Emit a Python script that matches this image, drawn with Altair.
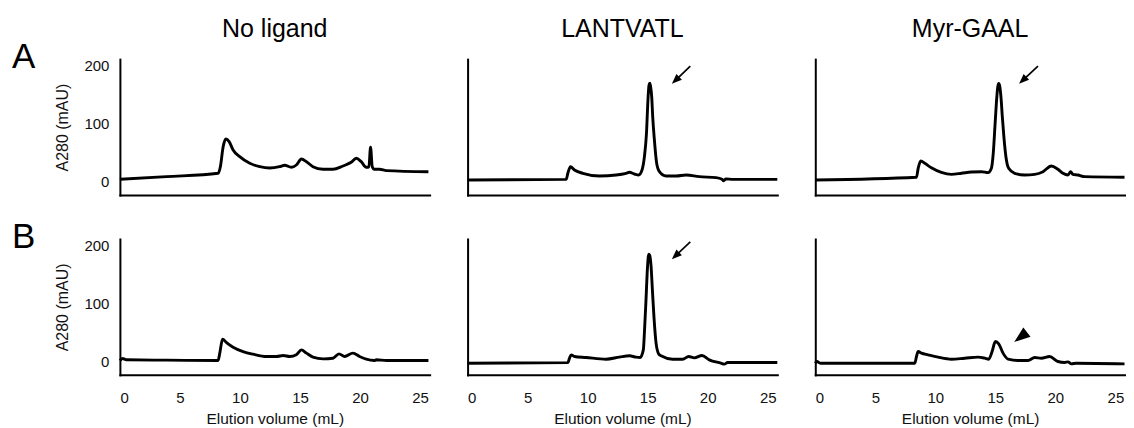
import altair as alt
import pandas as pd

FONT = "Liberation Sans"

col_titles = ["No ligand", "LANTVATL", "Myr-GAAL"]
row_labels = ["A", "B"]
x_ticks = [0, 5, 10, 15, 20, 25]
y_ticks = [0, 100, 200]

# Row A
a1_x = [0.0, 3.88, 8.18, 8.37, 8.6, 8.82, 9.1, 9.43, 9.98, 10.82, 11.65, 12.48, 13.3, 13.73, 14.28,
        14.7, 15.12, 15.54, 16.08, 16.92, 17.75, 18.58, 19.27, 19.69, 20.1, 20.52, 20.74, 20.88,
        21.02, 21.2, 21.63, 22.2, 25.7]
a1_y = [4.1, 8.6, 14.4, 25.8, 60, 73.5, 68.9, 54.6, 43, 31.6, 25.8, 23.6, 25.8, 28.2, 24.7,
        28.7, 39, 34.4, 25.8, 21.3, 21.3, 27, 33.3, 40.2, 34.4, 24.7, 25, 59.2,
        25.8, 21.3, 21.3, 19, 17]

a2_x = [0.0, 8.21, 8.35, 8.57, 8.9, 9.6, 10.98, 12.37, 13.2, 13.48, 13.9, 14.25, 14.53, 14.73,
        14.9, 15.03, 15.11, 15.18, 15.25, 15.34, 15.42, 15.56, 15.75, 15.98, 16.53, 17.37, 18.2,
        19.3, 20.7, 21.19, 21.33, 21.52, 22.1, 25.8]
a2_y = [2.9, 4.0, 14.4, 25.8, 20, 14.4, 9.8, 11.5, 14.4, 16.1, 13.2, 11.5, 20, 43,
        83, 143, 166, 169.5, 163, 145, 112, 71.8, 31.6, 17.2, 9.8, 9.8, 11.5,
        8.6, 6.9, 4, 1.7, 4.6, 4, 4]

a3_x = [0.0, 8.43, 8.57, 8.79, 9.12, 9.67, 10.5, 11.34, 12.17, 13.0, 13.84, 14.4, 14.67, 14.83,
        14.98, 15.12, 15.2, 15.28, 15.36, 15.47, 15.58, 15.72, 15.88, 16.11, 16.61, 17.44, 18.28,
        18.97, 19.66, 20.21, 20.63, 21.05, 21.27, 21.46, 21.88, 22.44, 25.76]
a3_y = [2.9, 7.5, 23, 35.6, 31.6, 24.1, 16.1, 12.6, 14.4, 16.7, 17.2, 15.5, 23, 50,
        100, 145, 163, 169.3, 165, 145, 112, 75, 43, 23, 14.4, 11.5, 12.6,
        17.2, 27, 21.3, 14.4, 11.5, 17.2, 12.6, 11.5, 8.6, 7.5]

# Row B
b1_x = [0.0, 0.22, 0.55, 3.88, 8.18, 8.32, 8.55, 8.88, 9.43, 10.26, 11.1, 12.2, 13.04, 13.6,
        14.15, 14.7, 15.12, 15.54, 16.08, 16.92, 17.75, 18.25, 18.72, 19.41, 19.97, 20.52,
        21.2, 21.35, 22.2, 25.7]
b1_y = [1.7, 5.2, 2.9, 2.3, 1.7, 14.4, 38.5, 32.7, 24.7, 17.2, 12.6, 8.6, 8.6, 10.3,
        8.6, 11.5, 20, 14.4, 7.5, 4.6, 5.7, 13.2, 8.6, 14.4, 8.6, 4,
        1.7, 2.9, 1.7, 1.7]

b2_x = [0.0, 8.35, 8.49, 8.63, 8.9, 9.87, 11.53, 12.64, 13.48, 14.03, 14.37, 14.64, 14.73,
        14.87, 14.98, 15.09, 15.17, 15.28, 15.39, 15.53, 15.7, 15.92, 16.11, 17.08, 17.92,
        18.41, 18.89, 19.53, 20.13, 21.1, 21.38, 21.66, 22.1, 25.8]
b2_y = [-3, -2, 5.7, 11.5, 8.6, 6.9, 4, 7.5, 9.8, 7.5, 6.9, 20, 50,
        110, 160, 184.8, 183, 165, 125, 75, 31.6, 13, 9.8, 4, 4,
        8.6, 6.3, 10.3, 2.9, -2.9, -4.6, -1.7, -1.7, -1.7]

b3_x = [0.0, 0.14, 0.42, 8.29, 8.43, 8.57, 8.85, 9.4, 10.23, 11.34, 12.45, 13.56, 14.12, 14.45,
        14.73, 15.0, 15.28, 15.64, 16.06, 16.89, 17.72, 18.28, 18.83, 19.52, 20.21, 20.77,
        21.05, 21.33, 21.74, 25.76]
b3_y = [-2.9, 0, -2.9, -2.9, 8.6, 17.2, 14.4, 11.5, 7.5, 4, 5.7, 7.5, 5.7, 4,
        17.2, 34.4, 30.4, 14.4, 4, 1.7, 1.7, 6.9, 5.7, 8.6, 0, -1.7,
        -0.6, -4, -2.9, -4]

series_x = [[a1_x, a2_x, a3_x], [b1_x, b2_x, b3_x]]
series_y = [[a1_y, a2_y, a3_y], [b1_y, b2_y, b3_y]]

# Arrow annotations: (row, col) panels, shaft start and head position (data units)
arrow_row = [0, 0, 1]
arrow_col = [1, 2, 1]
arrow_x0 = [18.55, 18.55, 18.55]
arrow_y0 = [199.0, 199.0, 206.0]
arrow_x1 = [17.32, 17.28, 17.32]
arrow_y1 = [174.5, 174.5, 182.1]

# Filled arrowhead marker in panel B / Myr-GAAL
marker_row = [1]
marker_col = [2]
marker_x = [17.1]
marker_y = [42.1]

ARROW_HEAD = "M0,-1L-0.8,1L0.8,1Z"
MARKER_HEAD = "M0,-1L-0.72,1L0.72,1Z"

X_DOMAIN = [0, 25.8]
Y_DOMAIN = [-23, 211]


def make_panel(r, c):
    bottom = r == 1
    left = c == 0
    x_axis = alt.Axis(
        values=x_ticks, labels=bottom, ticks=False, grid=False,
        title="Elution volume (mL)" if bottom else "",
        domainColor="black", domainWidth=2, domainCap="square",
        labelFontSize=15, labelPadding=16, labelColor="#111", labelFont=FONT,
        titleFontSize=15.5, titleFontWeight="normal", titlePadding=6,
        titleColor="#111", titleFont=FONT,
    )
    y_axis = alt.Axis(
        values=y_ticks, labels=left, ticks=False, grid=False,
        title="A280 (mAU)" if left else "",
        domainColor="black", domainWidth=2, domainCap="square",
        labelFontSize=15, labelPadding=11, labelColor="#111", labelFont=FONT,
        titleFontSize=16, titleFontWeight="normal", titlePadding=13,
        titleColor="#111", titleFont=FONT,
    )
    X = alt.X("vol:Q", scale=alt.Scale(domain=X_DOMAIN, nice=False, zero=False), axis=x_axis)
    Y = alt.Y("abs:Q", scale=alt.Scale(domain=Y_DOMAIN, nice=False, zero=False), axis=y_axis)

    df = pd.DataFrame({"vol": series_x[r][c], "abs": series_y[r][c]})
    layers = [
        alt.Chart(df).mark_line(color="black", strokeWidth=2.9, interpolate="monotone",
                                strokeJoin="round").encode(x=X, y=Y)
    ]

    for i in range(len(arrow_row)):
        if arrow_row[i] == r and arrow_col[i] == c:
            adf = pd.DataFrame({"vol": [arrow_x0[i]], "abs": [arrow_y0[i]],
                                "vol2": [arrow_x1[i]], "abs2": [arrow_y1[i]]})
            layers.append(alt.Chart(adf).mark_rule(color="black", strokeWidth=1.7).encode(
                x=X, y=Y, x2="vol2:Q", y2="abs2:Q"))
            hdf = pd.DataFrame({"vol": [arrow_x1[i]], "abs": [arrow_y1[i]]})
            layers.append(alt.Chart(hdf).mark_point(shape=ARROW_HEAD, filled=True, color="black",
                                                    opacity=1, size=100, angle=227).encode(x=X, y=Y))
    for i in range(len(marker_row)):
        if marker_row[i] == r and marker_col[i] == c:
            mdf = pd.DataFrame({"vol": [marker_x[i]], "abs": [marker_y[i]]})
            layers.append(alt.Chart(mdf).mark_point(shape=MARKER_HEAD, filled=True, color="black",
                                                    opacity=1, size=260, angle=232).encode(x=X, y=Y))

    if r == 0:
        tdf = pd.DataFrame({"t": [col_titles[c]]})
        layers.append(alt.Chart(tdf).mark_text(fontSize=25, font=FONT, align="center",
                                               baseline="alphabetic", color="black").encode(
            text="t:N", x=alt.value(155), y=alt.value(-22)))
    if c == 0:
        ldf = pd.DataFrame({"t": [row_labels[r]]})
        layers.append(alt.Chart(ldf).mark_text(fontSize=35, font=FONT, align="left",
                                               baseline="alphabetic", color="black").encode(
            text="t:N", x=alt.value(-108), y=alt.value(9)))

    return alt.layer(*layers).properties(width=310, height=136)


panels = [make_panel(r, c) for r in range(2) for c in range(3)]

chart = alt.concat(
    *panels, columns=3, spacing={"row": 44, "column": 38}, bounds="flush"
).properties(
    padding={"left": 4, "top": 9, "right": 0, "bottom": 0}
).configure_view(strokeWidth=0)

chart.save("out.html", embed_options={"renderer": "svg", "actions": False})
